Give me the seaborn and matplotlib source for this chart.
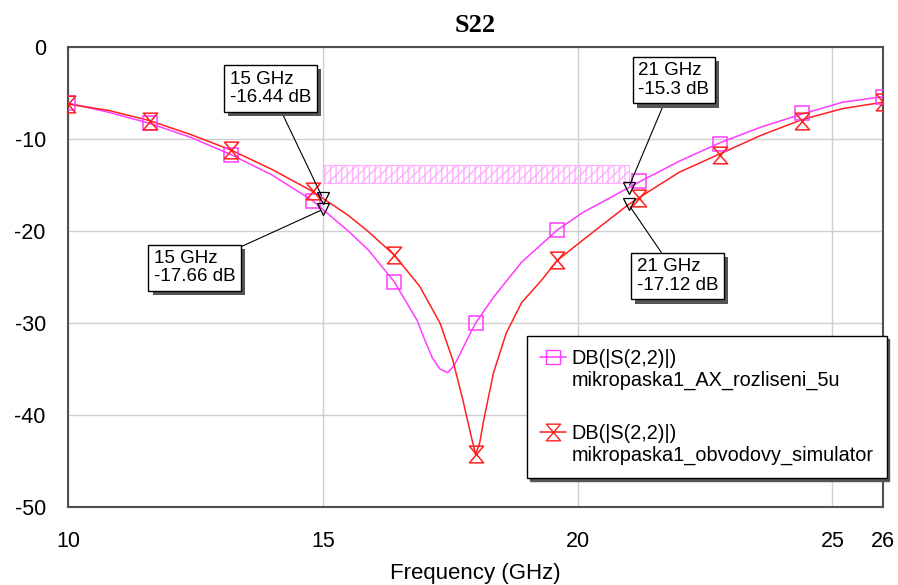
import matplotlib
matplotlib.use("Agg")
import matplotlib.pyplot as plt
import matplotlib.patheffects as pe
from matplotlib.path import Path
from matplotlib.lines import Line2D
import seaborn as sns

# krivka 1 - mikropaska1_AX_rozliseni_5u (magenta)
freq_ax = [10.0, 10.8, 11.6, 12.4, 13.2, 14.0, 14.8, 15.0, 15.5, 15.9, 16.4, 16.85, 17.0, 17.15,
           17.3, 17.45, 17.58, 17.7, 17.85, 18.0, 18.35, 18.9, 19.6, 20.1, 21.0, 21.2,
           22.0, 22.8, 23.6, 24.4, 25.2, 26.0]
db_ax = [-6.1, -7.1, -8.3, -9.8, -11.7, -13.9, -16.7, -17.66, -20.0, -22.1, -25.5, -29.7, -31.8, -33.8,
         -35.0, -35.4, -34.6, -33.3, -31.6, -30.0, -27.2, -23.4, -19.9, -18.0, -15.3, -14.7,
         -12.4, -10.4, -8.7, -7.3, -6.0, -5.4]

# krivka 2 - mikropaska1_obvodovy_simulator (cervena)
freq_ckt = [10.0, 10.8, 11.6, 12.4, 13.2, 14.0, 14.8, 15.0, 15.5, 15.9, 16.4, 16.9, 17.3,
            17.55, 17.75, 17.92, 18.0, 18.08, 18.16, 18.35, 18.6, 18.9, 19.3, 19.6, 20.1,
            21.0, 21.2, 22.0, 22.8, 23.6, 24.4, 25.2, 26.0]
db_ckt = [-6.2, -6.9, -8.0, -9.5, -11.2, -13.3, -15.7, -16.44, -18.3, -20.1, -22.6, -26.0, -30.0,
          -34.0, -38.4, -42.5, -44.3, -43.0, -40.5, -35.4, -31.1, -27.8, -25.3, -23.2, -21.0,
          -17.12, -16.4, -13.6, -11.6, -9.6, -7.9, -6.7, -6.0]

# znacky na krivkach
marker_freq = [10, 11.6, 13.2, 14.8, 16.4, 18.0, 19.6, 21.2, 22.8, 24.4, 26]
marker_ax = [-6.1, -8.3, -11.7, -16.7, -25.5, -30.0, -19.9, -14.6, -10.5, -7.2, -5.4]
marker_ckt = [-6.2, -8.0, -11.2, -15.6, -22.6, -44.2, -23.2, -16.4, -11.7, -8.0, -6.0]

# odecty (markery)
mark_freq = [15, 15, 21, 21]
mark_db = [-16.44, -17.66, -15.3, -17.12]
mark_text = ["15 GHz\n-16.44 dB", "15 GHz\n-17.66 dB", "21 GHz\n-15.3 dB", "21 GHz\n-17.12 dB"]

# pozadovane pasmo (srafovane)
band_freq = [15, 21]
band_lo = -14.8
band_hi = -12.8

label_meas = "DB(|S(2,2)|)"
label_names = ["mikropaska1_AX_rozliseni_5u", "mikropaska1_obvodovy_simulator"]
x_ticks = [10, 15, 20, 25, 26]
y_ticks = [-50, -40, -30, -20, -10, 0]

c_ax = "#ff3cff"
c_ckt = "#ff2020"

sns.set_style("white")
plt.rcParams["font.family"] = ["Liberation Sans", "DejaVu Sans"]
plt.rcParams["axes.unicode_minus"] = False
plt.rcParams["text.color"] = "black"
plt.rcParams["xtick.color"] = "black"
plt.rcParams["ytick.color"] = "black"
plt.rcParams["axes.labelcolor"] = "black"

fig = plt.figure(figsize=(8.98, 5.85), dpi=100)
ax = fig.add_axes([0.0757, 0.1333, 0.908, 0.7864])

# srafovane pasmo
ax.fill_between(band_freq, band_lo, band_hi, facecolor="none", edgecolor="#ffb0ff",
                hatch="|||///", linewidth=0.8, zorder=1)

sns.lineplot(x=freq_ax, y=db_ax, color=c_ax, lw=1.1, ax=ax, sort=False, legend=False, zorder=3)
sns.lineplot(x=freq_ckt, y=db_ckt, color=c_ckt, lw=1.1, ax=ax, sort=False, legend=False, zorder=3)

hourglass = Path([(-0.85, 1), (0.85, 1), (-0.85, -1), (0.85, -1), (-0.85, 1)],
                 [Path.MOVETO, Path.LINETO, Path.LINETO, Path.LINETO, Path.CLOSEPOLY])

ax.plot(marker_freq, marker_ax, ls="none", marker="s", ms=10, mfc="none", mec=c_ax, mew=1.1, zorder=4)
ax.plot(marker_freq, marker_ckt, ls="none", marker=hourglass, ms=12, mfc="none", mec=c_ckt, mew=1.1, zorder=4)

# odecty
ax.plot(mark_freq, mark_db, ls="none", marker="v", ms=9, mfc="none", mec="black", mew=0.9, zorder=5)
text_pos = [(13.97, -4.5), (12.49, -24.0), (21.89, -3.6), (21.96, -24.9)]
shadow = [pe.SimplePatchShadow(offset=(3, -3), shadow_rgbFace="#555555", alpha=1.0), pe.Normal()]
for fx, dbv, txt, pos in zip(mark_freq, mark_db, mark_text, text_pos):
    ann = ax.annotate(txt, xy=(fx, dbv), xytext=pos, textcoords="data",
                      ha="center", va="center", multialignment="left",
                      fontsize=13.5, linespacing=1.1,
                      bbox=dict(boxstyle="square,pad=0.3", fc="white", ec="black", lw=1),
                      arrowprops=dict(arrowstyle="-", color="black", lw=0.8, shrinkA=0, shrinkB=2),
                      zorder=6)
    ann.get_bbox_patch().set_path_effects(shadow)

ax.set_xlim(10, 26)
ax.set_ylim(-50, 0)
ax.set_xticks(x_ticks)
ax.set_yticks(y_ticks)
ax.grid(True, color="#cfcfcf", lw=1)
ax.tick_params(axis="both", length=0, labelsize=15.5)
ax.tick_params(axis="x", pad=17)
ax.tick_params(axis="y", pad=16)
for s in ax.spines.values():
    s.set_visible(True)
    s.set_color("#505050")
    s.set_linewidth(1.5)

ax.set_xlabel("Frequency (GHz)", fontsize=16, labelpad=8)
ax.set_ylabel("")
ax.set_title("S22", fontsize=19, fontweight="bold", family="Liberation Serif", pad=11)

# legenda: zvlast radky, aby znacka byla u prvniho radku
blank = Line2D([], [], lw=0)
handles = [Line2D([], [], color=c_ax, lw=1.1, marker="s", ms=10, mfc="none", mec=c_ax),
           blank, blank,
           Line2D([], [], color=c_ckt, lw=1.1, marker=hourglass, ms=12, mfc="none", mec=c_ckt),
           blank]
texts = [label_meas, label_names[0], " ", label_meas, label_names[1]]
leg = ax.legend(handles, texts, loc="lower right", bbox_to_anchor=(1.004, 0.063),
                fontsize=14.3, handlelength=1.3, handletextpad=0.3, labelspacing=0.15,
                borderpad=0.65, borderaxespad=0, fancybox=False, framealpha=1, edgecolor="black",
                shadow={"color": "#555555", "alpha": 1.0})
leg.get_texts()[2].set_fontsize(21)
leg.get_frame().set_linewidth(1.0)
leg.set_zorder(7)

fig.savefig("out.png", dpi=100)
